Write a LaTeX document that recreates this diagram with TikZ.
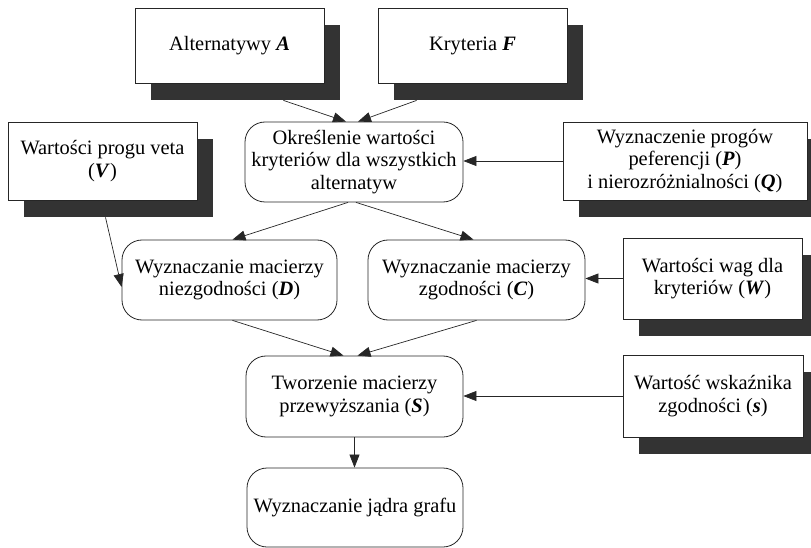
\documentclass[tikz,border=0pt]{standalone}
\usepackage{fontspec}
\setmainfont{Liberation Serif}
\usetikzlibrary{arrows.meta,shadows,calc}
\definecolor{shadowc}{HTML}{333333}
\begin{document}
\begin{tikzpicture}[x=1bp,y=-1bp,
  every node/.style={font=\fontsize{20.5}{22.5}\selectfont, align=center, inner sep=0pt},
  sbox/.style={draw=black!85, line width=0.8bp, fill=white,
    drop shadow={shadow xshift=16bp, shadow yshift=-17bp, opacity=1, fill=shadowc}},
  rbox/.style={draw=black!85, line width=0.8bp, fill=white, rounded corners=20bp},
  conn/.style={draw=black!85, line width=0.7bp, -{Triangle[length=13bp,width=10bp]}}
]
\useasboundingbox (0,0) rectangle (811,548);

\node[sbox, minimum width=189bp, minimum height=75bp] (alt) at (229.5,45.5) {Alternatywy \textbf{\textit{A}}};
\node[sbox, minimum width=189bp, minimum height=75bp] (kry) at (472.5,45.5) {Kryteria \textbf{\textit{F}}};
\node[sbox, minimum width=189bp, minimum height=78bp] (veta) at (102.5,161) {Wartości progu veta\\(\textbf{\textit{V}})};
\node[rbox, minimum width=218bp, minimum height=80bp] (oke) at (354,162) {Określenie wartości\\kryteriów dla wszystkich\\alternatyw};
\node[sbox, minimum width=244bp, minimum height=78bp] (prog) at (685,161) {Wyznaczenie progów\\peferencji (\textbf{\textit{P}})\\i nierozróżnialności (\textbf{\textit{Q}})};
\node[rbox, minimum width=215bp, minimum height=80bp] (d) at (229.5,280) {Wyznaczanie macierzy\\niezgodności (\textbf{\textit{D}})};
\node[rbox, minimum width=217bp, minimum height=80bp] (c) at (476.5,280) {Wyznaczanie macierzy\\zgodności (\textbf{\textit{C}})};
\node[sbox, minimum width=179bp, minimum height=81bp] (wag) at (712.5,278.5) {Wartości wag dla\\kryteriów (\textbf{\textit{W}})};
\node[rbox, minimum width=217bp, minimum height=81bp] (tw) at (354.5,396.5) {Tworzenie macierzy\\przewyższania (\textbf{\textit{S}})};
\node[sbox, minimum width=180bp, minimum height=82bp] (wsk) at (713,396) {Wartość wskaźnika\\zgodności (\textbf{\textit{s}})};
\node[rbox, minimum width=216bp, minimum height=79bp] (jad) at (355,507.5) {Wyznaczanie jądra grafu};

\draw[conn] ($(alt.south east)+(-41,17)$) -- ($(oke.north)+(-8,0)$);
\draw[conn] ($(kry.south west)+(39,17)$) -- ($(oke.north)+(4,0)$);
\draw[conn] (prog.west) -- (prog.west -| oke.east);
\draw[conn] ($(oke.south)+(-6,0)$) -- ($(d.north)+(3,0)$);
\draw[conn] ($(oke.south)+(2,0)$) -- ($(c.north)+(-3,0)$);
\draw[conn] ($(veta.south)+(3,17)$) -- ($(d.west)+(0,7)$);
\draw[conn] (wag.west) -- (wag.west -| c.east);
\draw[conn] ($(d.south)+(3,0)$) -- ($(tw.north)+(-11,0)$);
\draw[conn] (c.south) -- ($(tw.north)+(3,0)$);
\draw[conn] (wsk.west) -- (wsk.west -| tw.east);
\draw[conn] (tw.south) -- (tw.south |- jad.north);
\end{tikzpicture}
\end{document}
